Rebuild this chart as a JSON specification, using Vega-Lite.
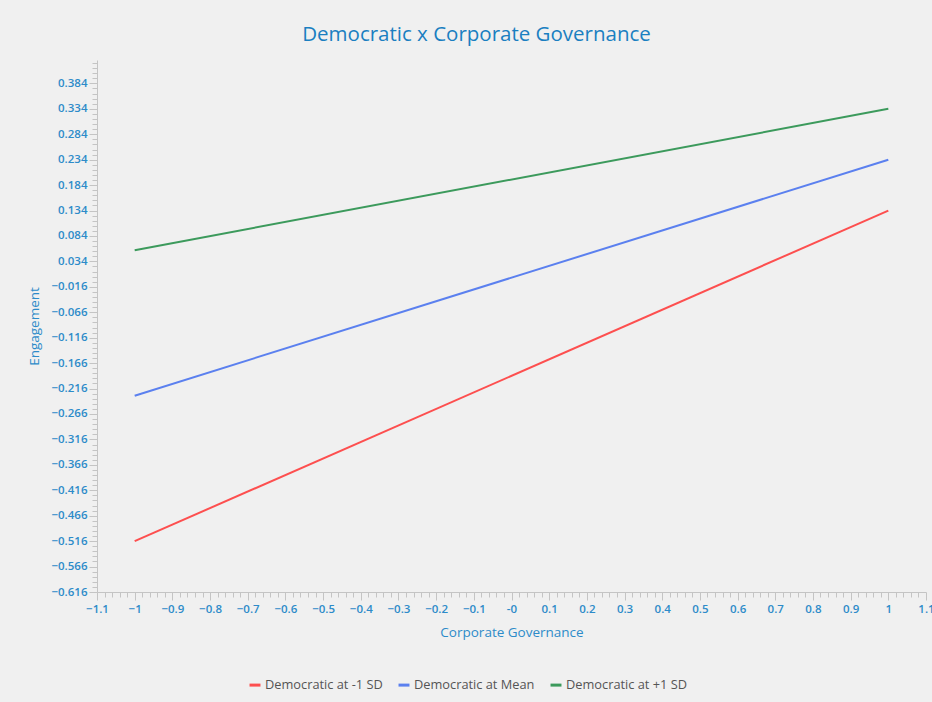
{
  "$schema": "https://vega.github.io/schema/vega-lite/v6.json",
  "width": 829,
  "height": 532,
  "autosize": {"type": "none"},
  "padding": {"left": 97, "top": 60, "right": 6, "bottom": 110},
  "background": "#f0f0f0",
  "config": {
    "view": {"stroke": null},
    "font": "Open Sans"
  },
  "title": {
    "text": "Democratic x Corporate Governance",
    "font": "Open Sans",
    "fontSize": 20.5,
    "fontWeight": "normal",
    "color": "#1a7fc1",
    "anchor": "middle",
    "dx": -35,
    "offset": 12
  },
  "data": {
    "values": [
      {"series": "Democratic at -1 SD", "cg": -1, "eng": -0.516},
      {"series": "Democratic at -1 SD", "cg": 1, "eng": 0.134},
      {"series": "Democratic at Mean", "cg": -1, "eng": -0.23},
      {"series": "Democratic at Mean", "cg": 1, "eng": 0.234},
      {"series": "Democratic at +1 SD", "cg": -1, "eng": 0.056},
      {"series": "Democratic at +1 SD", "cg": 1, "eng": 0.334}
    ]
  },
  "mark": {"type": "line", "strokeWidth": 2},
  "encoding": {
    "x": {
      "field": "cg",
      "type": "quantitative",
      "title": "Corporate Governance",
      "scale": {"domain": [-1.1, 1.1], "nice": false, "zero": false},
      "axis": {
        "values": [-1.1,-1.08,-1.06,-1.04,-1.02,-1,-0.98,-0.96,-0.94,-0.92,-0.9,-0.88,-0.86,-0.84,-0.82,-0.8,-0.78,-0.76,-0.74,-0.72,-0.7,-0.68,-0.66,-0.64,-0.62,-0.6,-0.58,-0.56,-0.54,-0.52,-0.5,-0.48,-0.46,-0.44,-0.42,-0.4,-0.38,-0.36,-0.34,-0.32,-0.3,-0.28,-0.26,-0.24,-0.22,-0.2,-0.18,-0.16,-0.14,-0.12,-0.1,-0.08,-0.06,-0.04,-0.02,0,0.02,0.04,0.06,0.08,0.1,0.12,0.14,0.16,0.18,0.2,0.22,0.24,0.26,0.28,0.3,0.32,0.34,0.36,0.38,0.4,0.42,0.44,0.46,0.48,0.5,0.52,0.54,0.56,0.58,0.6,0.62,0.64,0.66,0.68,0.7,0.72,0.74,0.76,0.78,0.8,0.82,0.84,0.86,0.88,0.9,0.92,0.94,0.96,0.98,1,1.02,1.04,1.06,1.08,1.1],
        "labelExpr": "abs(datum.value*10 - round(datum.value*10)) < 1e-6 ? (abs(datum.value) < 1e-9 ? '-0' : format(datum.value, '~g')) : ''",
        "labelOverlap": false,
        "labelFlush": false,
        "grid": false,
        "domainColor": "#c4c4c4",
        "tickColor": "#c4c4c4",
        "tickSize": {"condition": {"test": "abs(datum.value*10 - round(datum.value*10)) < 1e-6", "value": 8}, "value": 5},
        "labelPadding": 3,
        "labelFont": "Open Sans",
        "labelFontSize": 11.5,
        "labelFontWeight": 600,
        "labelColor": "#2d8bc9",
        "titleFont": "Open Sans",
        "titleFontSize": 13.5,
        "titleFontWeight": "normal",
        "titleColor": "#2d8bc9",
        "titlePadding": 11
      }
    },
    "y": {
      "field": "eng",
      "type": "quantitative",
      "title": "Engagement",
      "scale": {"domain": [-0.616, 0.43], "nice": false, "zero": false},
      "axis": {
        "values": [-0.616,-0.606,-0.596,-0.586,-0.576,-0.566,-0.556,-0.546,-0.536,-0.526,-0.516,-0.506,-0.496,-0.486,-0.476,-0.466,-0.456,-0.446,-0.436,-0.426,-0.416,-0.406,-0.396,-0.386,-0.376,-0.366,-0.356,-0.346,-0.336,-0.326,-0.316,-0.306,-0.296,-0.286,-0.276,-0.266,-0.256,-0.246,-0.236,-0.226,-0.216,-0.206,-0.196,-0.186,-0.176,-0.166,-0.156,-0.146,-0.136,-0.126,-0.116,-0.106,-0.096,-0.086,-0.076,-0.066,-0.056,-0.046,-0.036,-0.026,-0.016,-0.006,0.004,0.014,0.024,0.034,0.044,0.054,0.064,0.074,0.084,0.094,0.104,0.114,0.124,0.134,0.144,0.154,0.164,0.174,0.184,0.194,0.204,0.214,0.224,0.234,0.244,0.254,0.264,0.274,0.284,0.294,0.304,0.314,0.324,0.334,0.344,0.354,0.364,0.374,0.384,0.394,0.404,0.414,0.424],
        "labelExpr": "abs((datum.value+0.616)/0.05 - round((datum.value+0.616)/0.05)) < 1e-4 ? format(datum.value, '.3f') : ''",
        "labelOverlap": false,
        "labelFlush": false,
        "grid": false,
        "domainColor": "#c4c4c4",
        "tickColor": "#c4c4c4",
        "tickSize": {"condition": {"test": "abs((datum.value+0.616)/0.05 - round((datum.value+0.616)/0.05)) < 1e-4", "value": 8}, "value": 5},
        "labelPadding": 2,
        "labelFont": "Open Sans",
        "labelFontSize": 11.5,
        "labelFontWeight": 600,
        "labelColor": "#2d8bc9",
        "titleFont": "Open Sans",
        "titleFontSize": 13.5,
        "titleFontWeight": "normal",
        "titleColor": "#2d8bc9",
        "titlePadding": 9
      }
    },
    "color": {
      "field": "series",
      "type": "nominal",
      "scale": {
        "domain": ["Democratic at -1 SD", "Democratic at Mean", "Democratic at +1 SD"],
        "range": ["#fd4f4f", "#5b80ef", "#3c9a5c"]
      },
      "legend": {
        "title": null,
        "orient": "none",
        "legendX": 151,
        "legendY": 618,
        "direction": "horizontal",
        "symbolType": "stroke",
        "symbolStrokeWidth": 3,
        "symbolSize": 120,
        "labelOffset": 3,
        "labelFont": "Open Sans",
        "labelFontSize": 12.8,
        "labelColor": "#555555",
        "columnPadding": 9,
        "labelLimit": 300
      }
    }
  }
}
